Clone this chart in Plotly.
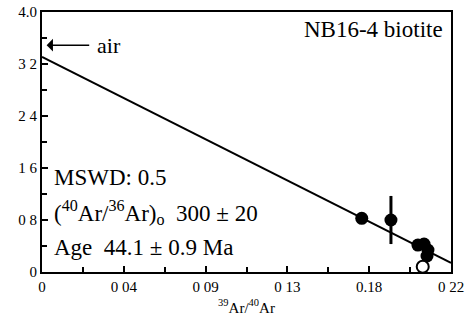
import numpy as np
import plotly.graph_objects as go

# --- data ---
fill_x = [0.1720, 0.1877, 0.2022, 0.2055, 0.2076, 0.2071]
fill_y = [0.826, 0.800, 0.415, 0.431, 0.338, 0.246]
fill_err = [0, 0.37, 0, 0, 0, 0]
open_x = [0.2048]
open_y = [0.082]

# isochron regression line
y_intercept = 3.31
x_intercept = 0.2297

x_tickvals = [0, 0.044, 0.088, 0.132, 0.176, 0.22]
x_ticktext = ["0", "0 04", "0 09", "0 13", "0.18", "0 22"]
y_tickvals = [0, 0.8, 1.6, 2.4, 3.2, 4.0]
y_ticktext = ["0", "0 8", "1 6", "2 4", "3 2", "4.0"]
air_y = 3.49

FONT = '"Liberation Serif", "Times New Roman", Times, serif'

line_x = np.array([0.0, 0.22])
line_y = y_intercept * (1 - line_x / x_intercept)

fig = go.Figure()
fig.add_trace(go.Scatter(x=line_x, y=line_y, mode="lines",
                         line=dict(color="black", width=2), hoverinfo="skip"))
fig.add_trace(go.Scatter(x=fill_x, y=fill_y, mode="markers",
                         marker=dict(color="black", size=13),
                         error_y=dict(type="data", array=fill_err, visible=True,
                                      color="black", thickness=3, width=0)))
fig.add_trace(go.Scatter(x=open_x, y=open_y, mode="markers",
                         marker=dict(color="white", size=12,
                                     line=dict(color="black", width=2))))

x_minor = [i * 0.022 for i in range(11)]
y_minor = [i * 0.4 for i in range(11)]

fig.update_xaxes(range=[0, 0.22], tickmode="array", tickvals=x_tickvals,
                 ticktext=x_ticktext, ticks="inside", ticklen=6, tickwidth=1.5,
                 tickcolor="black", showline=True, linecolor="black", linewidth=2,
                 mirror=True, showgrid=False, zeroline=False, automargin=False,
                 tickfont=dict(family=FONT, size=15, color="black"),
                 minor=dict(tickvals=x_minor, ticks="inside", ticklen=5,
                            tickcolor="black", tickwidth=1.5, showgrid=False),
                 title=dict(text="<sup>39</sup>Ar/<sup>40</sup>Ar",
                            font=dict(family=FONT, size=15, color="black"),
                            standoff=8))
fig.update_yaxes(range=[0, 4.0], tickmode="array", tickvals=y_tickvals,
                 ticktext=y_ticktext, ticks="inside", ticklen=6, tickwidth=1.5,
                 tickcolor="black", showline=True, linecolor="black", linewidth=2,
                 mirror=True, showgrid=False, zeroline=False, automargin=False,
                 tickfont=dict(family=FONT, size=15, color="black"),
                 minor=dict(tickvals=y_minor, ticks="inside", ticklen=5,
                            tickcolor="black", tickwidth=1.5, showgrid=False))

anns = []
anns.append(dict(x=0.0025, y=air_y, xref="x", yref="y", ax=0.0262, ay=air_y,
                 axref="x", ayref="y", text="", showarrow=True, arrowhead=1,
                 arrowsize=1.4, arrowwidth=1.5, arrowcolor="black"))
anns.append(dict(x=0.0285, y=air_y, xref="x", yref="y", text="air",
                 showarrow=False, xanchor="left", yanchor="middle",
                 font=dict(family=FONT, size=22, color="black")))
anns.append(dict(x=0.985, y=0.931, xref="paper", yref="paper",
                 text="NB16-4 biotite", showarrow=False, xanchor="right",
                 yanchor="middle", font=dict(family=FONT, size=23, color="black")))
lines = ["MSWD: 0.5",
         "(<sup>40</sup>Ar/<sup>36</sup>Ar)<sub>o</sub>\u00a0\u00a0300\u00a0±\u00a020",
         "Age\u00a0\u00a044.1\u00a0±\u00a00.9\u00a0Ma"]
ys = [0.362, 0.227, 0.096]
for t, yy in zip(lines, ys):
    anns.append(dict(x=0.024, y=yy, xref="paper", yref="paper", text=t,
                     showarrow=False, xanchor="left", yanchor="middle",
                     font=dict(family=FONT, size=23, color="black")))

fig.update_layout(width=472, height=328, margin=dict(l=42, r=21, t=12, b=56),
                  plot_bgcolor="white", paper_bgcolor="white", showlegend=False,
                  font=dict(family=FONT, color="black"),
                  annotations=anns)
fig.write_html("out.html", config={"displayModeBar": False},
               post_script="document.body.style.margin='0';document.body.style.overflow='hidden';")
